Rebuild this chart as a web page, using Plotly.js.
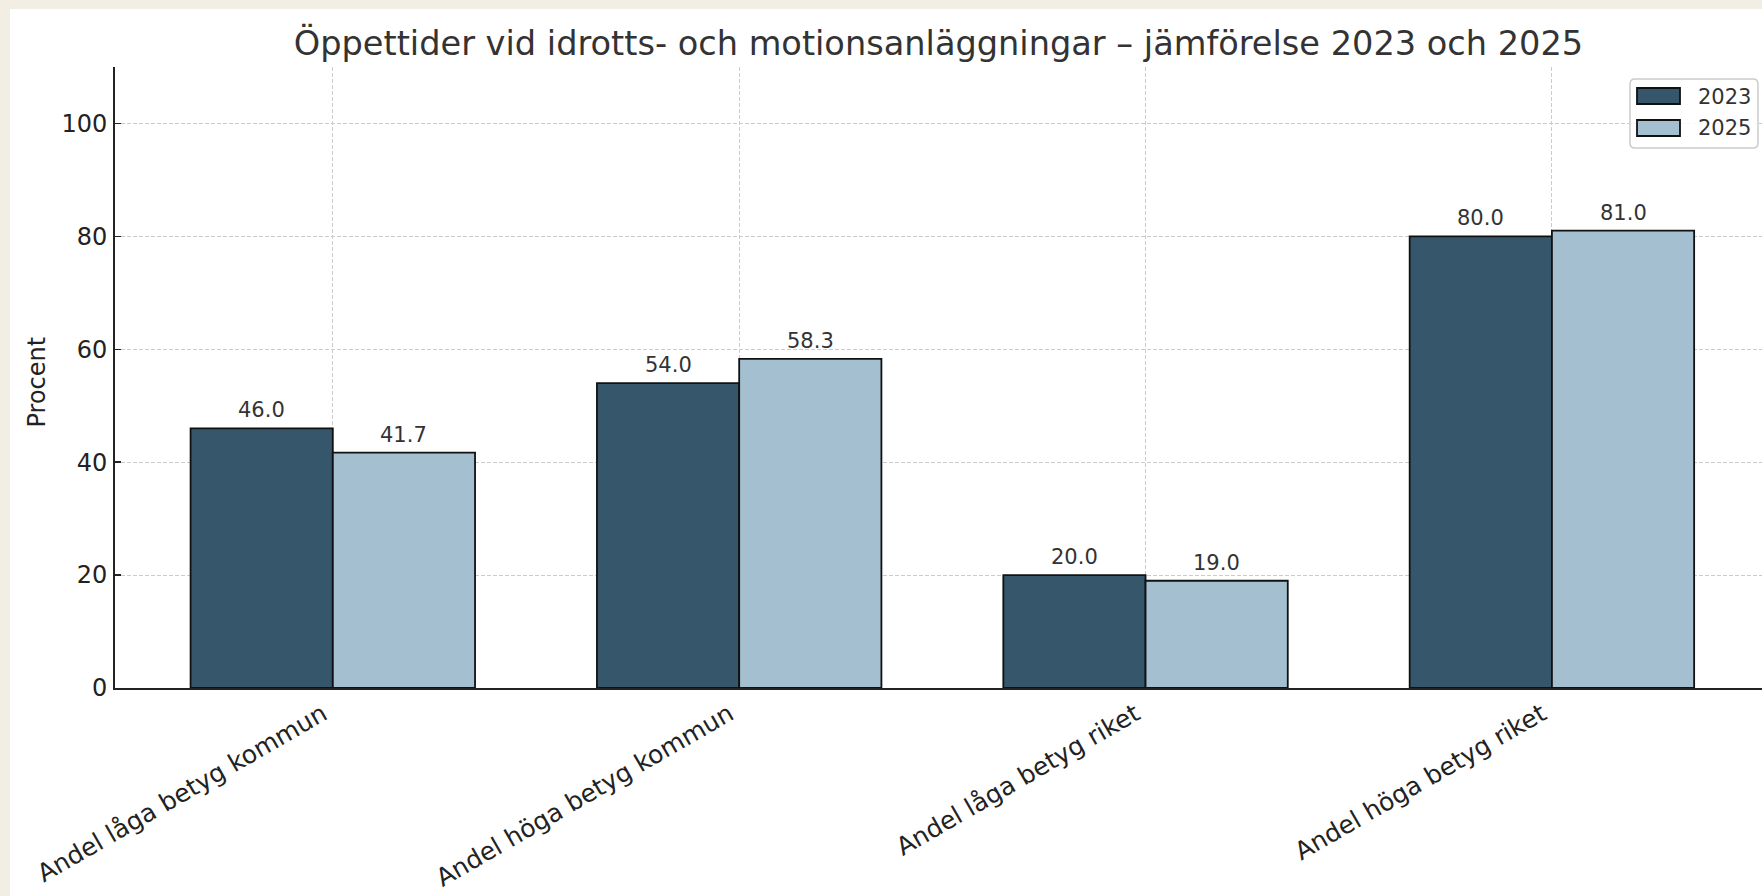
<!DOCTYPE html>
<html>
<head>
<meta charset="utf-8">
<script src="https://cdn.plot.ly/plotly-3.0.1.min.js"></script>
<style>
  html, body { margin: 0; padding: 0; background: #f2eee3; width: 1762px; height: 896px; overflow: hidden; }
  #wrap { position: absolute; left: 10px; top: 9px; width: 1752px; height: 887px; background: #ffffff; }
  #chart { width: 1752px; height: 887px; }
</style>
</head>
<body>
<div id="wrap"><div id="chart"></div></div>
<script>
const categories = ["Andel låga betyg kommun", "Andel höga betyg kommun", "Andel låga betyg riket", "Andel höga betyg riket"];
const values2023 = [46.0, 54.0, 20.0, 80.0];
const values2025 = [41.7, 58.3, 19.0, 81.0];
const seriesNames = ["2023", "2025"];
const seriesColors = ["#36566b", "#a4bfd0"];
const yTicks = [0, 20, 40, 60, 80, 100];

const W = 1752, H = 887;
const M = { l: 105, r: 0, t: 58, b: 208 };
const PW = W - M.l - M.r, PH = H - M.t - M.b;
const px2x = p => (p - M.l) / PW;
const py2y = p => (H - M.b - p) / PH;

const xIdx = categories.map((c, i) => i);
const barW = 0.35;
const fontFam = "DejaVu Sans, Verdana, sans-serif";

const traces = [
  {
    type: "bar", name: seriesNames[0], x: xIdx, y: values2023,
    width: barW, offset: -barW,
    marker: { color: seriesColors[0], line: { color: "#111111", width: 1.8 } },
    hoverinfo: "skip", showlegend: false
  },
  {
    type: "bar", name: seriesNames[1], x: xIdx, y: values2025,
    width: barW, offset: 0,
    marker: { color: seriesColors[1], line: { color: "#111111", width: 1.8 } },
    hoverinfo: "skip", showlegend: false
  }
];

const annotations = [];
values2023.forEach((v, i) => annotations.push({
  x: i - barW / 2, y: v, xref: "x", yref: "y", text: v.toFixed(1), showarrow: false,
  yanchor: "bottom", yshift: 4, font: { family: fontFam, size: 21, color: "#333333" }
}));
values2025.forEach((v, i) => annotations.push({
  x: i + barW / 2, y: v, xref: "x", yref: "y", text: v.toFixed(1), showarrow: false,
  yanchor: "bottom", yshift: 4, font: { family: fontFam, size: 21, color: "#333333" }
}));
annotations.push({
  text: "Procent", xref: "paper", yref: "paper", x: 0, y: 0.5, xshift: -79, yshift: -5,
  xanchor: "center", yanchor: "middle", textangle: -90, showarrow: false,
  font: { family: fontFam, size: 24, color: "#222222" }
});

// custom legend (matplotlib-style wide patches)
const shapes = [];
const lb = { x0: 1620, x1: 1748, y0: 70, y1: 139, r: 5 };
{
  const X0 = px2x(lb.x0), X1 = px2x(lb.x1), Y0 = py2y(lb.y0), Y1 = py2y(lb.y1);
  const rx = lb.r / PW, ry = lb.r / PH;
  const path = `M ${X0 + rx},${Y0} L ${X1 - rx},${Y0} Q ${X1},${Y0} ${X1},${Y0 - ry} L ${X1},${Y1 + ry} Q ${X1},${Y1} ${X1 - rx},${Y1} L ${X0 + rx},${Y1} Q ${X0},${Y1} ${X0},${Y1 + ry} L ${X0},${Y0 - ry} Q ${X0},${Y0} ${X0 + rx},${Y0} Z`;
  shapes.push({ type: "path", xref: "paper", yref: "paper", path: path,
    fillcolor: "rgba(255,255,255,0.85)", line: { color: "#cccccc", width: 1.5 }, layer: "above" });
}
seriesNames.forEach((n, k) => {
  const top = 79 + k * 32, bot = 95 + k * 32;
  shapes.push({ type: "rect", xref: "paper", yref: "paper",
    x0: px2x(1627), x1: px2x(1670), y0: py2y(bot), y1: py2y(top),
    fillcolor: seriesColors[k], line: { color: "#111111", width: 1.8 }, layer: "above" });
  annotations.push({ text: n, xref: "paper", yref: "paper", x: px2x(1686), y: py2y(87.7 + k * 31),
    xanchor: "left", yanchor: "middle", showarrow: false,
    font: { family: fontFam, size: 21, color: "#333333" } });
});

const layout = {
  width: W, height: H,
  paper_bgcolor: "#ffffff", plot_bgcolor: "#ffffff",
  margin: M,
  barmode: "overlay",
  font: { family: fontFam, color: "#222222" },
  title: {
    text: "Öppettider vid idrotts- och motionsanläggningar – jämförelse 2023 och 2025",
    x: 0.5, xref: "paper", xanchor: "center",
    y: 1 - 34 / H, yref: "container", yanchor: "middle",
    font: { family: fontFam, size: 33.6, color: "#333333" }
  },
  xaxis: {
    range: [-0.536, 3.517],
    tickvals: xIdx, ticktext: categories, tickangle: -30,
    tickfont: { family: fontFam, size: 25, color: "#222222" },
    ticklabelshift: -10,
    showgrid: true, gridcolor: "#cccccc", griddash: "4px,2px", gridwidth: 1,
    showline: true, linecolor: "#222222", linewidth: 1.8,
    ticks: "", zeroline: false, fixedrange: true
  },
  yaxis: {
    range: [0, 110],
    tickvals: yTicks,
    tickfont: { family: fontFam, size: 24, color: "#222222" },
    showgrid: true, gridcolor: "#cccccc", griddash: "4px,2px", gridwidth: 1,
    showline: true, linecolor: "#222222", linewidth: 1.8,
    ticks: "inside", ticklen: 6, tickwidth: 1.5, tickcolor: "#222222", ticklabelstandoff: 1,
    zeroline: false, fixedrange: true
  },
  shapes: shapes,
  annotations: annotations,
  showlegend: false
};

Plotly.newPlot("chart", traces, layout, { displayModeBar: false, staticPlot: true });
</script>
</body>
</html>
